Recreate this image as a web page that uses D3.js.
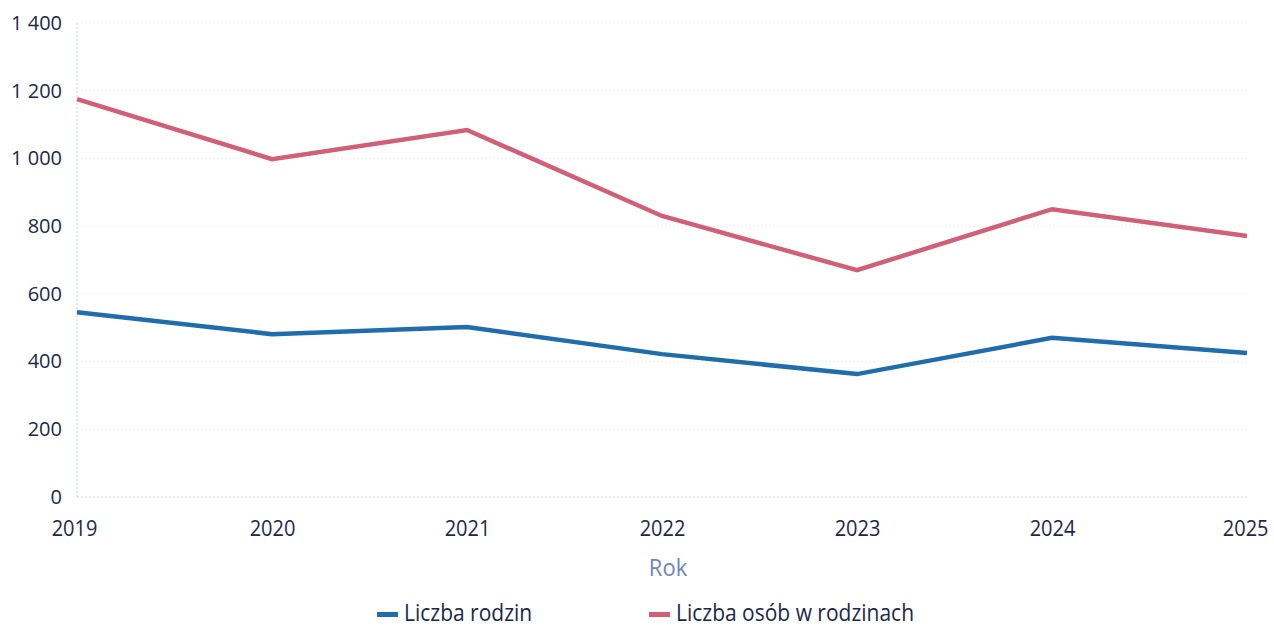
<!DOCTYPE html>
<html><head><meta charset="utf-8">
<script src="https://cdn.jsdelivr.net/npm/d3@7"></script>
<style>body{margin:0;background:#fff;} svg{display:block;font-family:"Open Sans",sans-serif;}</style>
</head><body><svg id="c" width="1274" height="628"></svg>
<script>
const years = [2019, 2020, 2021, 2022, 2023, 2024, 2025];
const rodziny = [546, 481, 502, 422, 363, 470, 425];
const osoby = [1175, 998, 1084, 830, 670, 850, 771];
const yTicks = [0, 200, 400, 600, 800, 1000, 1200, 1400];
const seriesNames = ["Liczba rodzin", "Liczba osób w rodzinach"];
const colors = ["#1f6dab", "#d25f78"];

const svg = d3.select("#c");
const x = d3.scaleLinear().domain([2019, 2025]).range([77, 1247]);
const y = d3.scaleLinear().domain([0, 1400]).range([497, 23]);
const fmt = v => v >= 1000 ? d3.format(",")(v).replace(/,/g, " ") : String(v);

// gridlines
svg.append("g").selectAll("line").data(yTicks).join("line")
  .attr("x1", 77).attr("x2", 1247).attr("y1", d => y(d)).attr("y2", d => y(d))
  .attr("stroke", d => d === 0 ? "#c9d2e3" : "#eef1f6").attr("stroke-width", 1.2)
  .attr("stroke-dasharray", "2,2");
svg.append("line").attr("x1", 77).attr("x2", 77).attr("y1", y(1400)).attr("y2", y(0))
  .attr("stroke", "#d3dae8").attr("stroke-width", 1.2).attr("stroke-dasharray", "2,2");

// y axis labels
const yAxis = d3.axisLeft(y).tickValues(yTicks).tickFormat(fmt).tickSize(0).tickPadding(15);
const ga = svg.append("g").attr("transform", "translate(77,0)").call(yAxis);
ga.select(".domain").remove();
ga.selectAll("text").attr("font-size", 20).attr("fill", "#1e2846").attr("font-family", "Open Sans");

// x axis labels
const xAxis = d3.axisBottom(x).tickValues(years).tickFormat(d3.format("d")).tickSize(0).tickPadding(0);
const gx = svg.append("g").attr("transform", "translate(0,497)").call(xAxis);
gx.select(".domain").remove();
gx.selectAll("text").attr("font-size", 20).attr("fill", "#1e2846").attr("font-family", "Open Sans")
  .attr("dy", null).attr("y", 0).attr("transform", "translate(0,39) scale(1,1.1)");
gx.selectAll(".tick").filter(d => d === 2025).select("text").attr("text-anchor", "end").attr("x", 21);
gx.selectAll(".tick").filter(d => d === 2019).select("text").attr("x", -3);

svg.append("text").attr("transform", "translate(668,576) scale(1,1.05)").attr("text-anchor", "middle")
  .attr("font-size", 22).attr("fill", "#6f86b8").text("Rok");

const line = d3.line().x((d, i) => x(years[i])).y(d => y(d));
[rodziny, osoby].forEach((s, k) => {
  svg.append("path").datum(s).attr("d", line).attr("fill", "none")
    .attr("stroke", colors[k]).attr("stroke-width", 4.5).attr("stroke-linejoin", "miter");
});

// legend
const legX = [377, 649];
seriesNames.forEach((n, k) => {
  svg.append("rect").attr("x", legX[k]).attr("y", 612).attr("width", 21).attr("height", 5).attr("fill", colors[k]);
  svg.append("text").attr("transform", `translate(${legX[k] + 27},621) scale(1,1.1)`)
    .attr("font-size", 21).attr("fill", "#1e2846").text(n);
});
</script></body></html>
